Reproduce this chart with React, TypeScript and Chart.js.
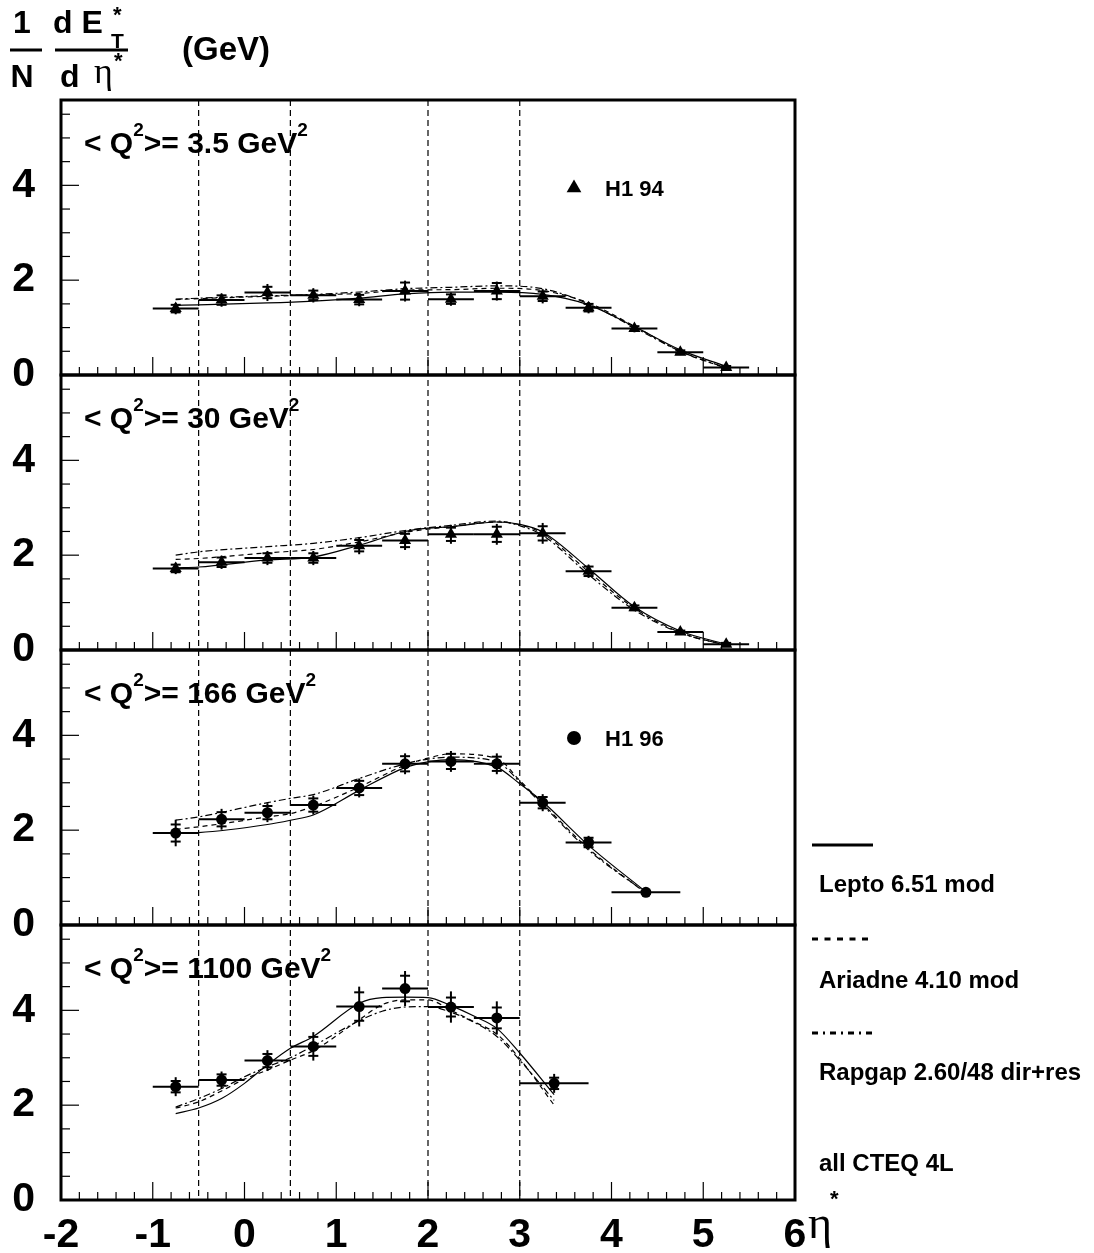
import React, { useEffect, useRef } from 'react';
import { Chart, registerables } from 'chart.js';

Chart.register(...registerables);

const FONT = '"Liberation Sans", Arial, Helvetica, sans-serif';
const SERIF = '"Liberation Serif", "DejaVu Serif", serif';

// ---------------- Panel 1 : <Q2> = 3.5 GeV2 (H1 94) ----------------
const p1X = [-0.75, -0.25, 0.25, 0.75, 1.25, 1.75, 2.25, 2.75, 3.25, 3.75, 4.25, 4.75, 5.25];
const p1Y = [1.40, 1.58, 1.74, 1.68, 1.59, 1.77, 1.60, 1.77, 1.66, 1.42, 0.98, 0.48, 0.16];
const p1Stat = [0.08, 0.1, 0.12, 0.1, 0.1, 0.18, 0.1, 0.17, 0.1, 0.08, 0.05, 0.04, 0.03];
const p1Tot = [0.12, 0.14, 0.18, 0.15, 0.14, 0.22, 0.14, 0.2, 0.15, 0.12, 0.08, 0.06, 0.05];
const p1XLo = [-1, -0.5, 0, 0.5, 1, 1.5, 2, 2.5, 3, 3.5, 4, 4.5, 5];
const p1XHi = [-0.5, 0, 0.5, 1, 1.5, 2, 2.5, 3, 3.5, 4, 4.5, 5, 5.5];
const p1ModelX = [-0.75, -0.5, 0.25, 0.75, 1.25, 1.75, 2.25, 2.75, 3.25, 3.75, 4.25, 4.75, 5.25];
const p1Lepto = [1.47, 1.48, 1.52, 1.56, 1.62, 1.71, 1.75, 1.75, 1.70, 1.48, 1.02, 0.53, 0.18];
const p1Ariadne = [1.59, 1.61, 1.66, 1.69, 1.72, 1.79, 1.80, 1.83, 1.78, 1.52, 1.03, 0.50, 0.14];
const p1Rapgap = [1.60, 1.62, 1.67, 1.70, 1.75, 1.82, 1.85, 1.88, 1.82, 1.50, 1.00, 0.50, 0.15];

// ---------------- Panel 2 : <Q2> = 30 GeV2 (H1 94) ----------------
const p2X = [-0.75, -0.25, 0.25, 0.75, 1.25, 1.75, 2.25, 2.75, 3.25, 3.75, 4.25, 4.75, 5.25];
const p2Y = [1.72, 1.85, 1.94, 1.94, 2.20, 2.31, 2.44, 2.44, 2.46, 1.66, 0.89, 0.38, 0.12];
const p2Stat = [0.08, 0.1, 0.1, 0.1, 0.12, 0.14, 0.14, 0.16, 0.15, 0.1, 0.05, 0.03, 0.03];
const p2Tot = [0.12, 0.14, 0.15, 0.15, 0.18, 0.2, 0.2, 0.22, 0.22, 0.14, 0.07, 0.05, 0.04];
const p2XLo = [-1, -0.5, 0, 0.5, 1, 1.5, 2, 2.5, 3, 3.5, 4, 4.5, 5];
const p2XHi = [-0.5, 0, 0.5, 1, 1.5, 2, 2.5, 3, 3.5, 4, 4.5, 5, 5.5];
const p2ModelX = [-0.75, -0.5, 0.25, 0.75, 1.25, 1.75, 2.0, 2.25, 2.75, 3.0, 3.25, 3.75, 4.25, 4.75, 5.25];
const p2Lepto = [1.73, 1.75, 1.90, 1.96, 2.21, 2.50, 2.57, 2.60, 2.70, 2.65, 2.49, 1.72, 0.91, 0.40, 0.12];
const p2Ariadne = [1.91, 1.93, 2.05, 2.12, 2.28, 2.48, 2.55, 2.60, 2.70, 2.64, 2.46, 1.65, 0.88, 0.37, 0.10];
const p2Rapgap = [2.00, 2.07, 2.18, 2.25, 2.37, 2.52, 2.58, 2.63, 2.72, 2.62, 2.42, 1.59, 0.84, 0.36, 0.10];

// ---------------- Panel 3 : <Q2> = 166 GeV2 (H1 96) ----------------
const p3X = [-0.75, -0.25, 0.25, 0.75, 1.25, 1.75, 2.25, 2.75, 3.25, 3.75, 4.375];
const p3Y = [1.94, 2.23, 2.37, 2.53, 2.89, 3.40, 3.45, 3.40, 2.58, 1.74, 0.69];
const p3Stat = [0.18, 0.15, 0.14, 0.14, 0.15, 0.16, 0.16, 0.15, 0.12, 0.1, 0.03];
const p3Tot = [0.28, 0.22, 0.2, 0.2, 0.2, 0.22, 0.22, 0.22, 0.18, 0.14, 0.05];
const p3XLo = [-1, -0.5, 0, 0.5, 1, 1.5, 2, 2.5, 3, 3.5, 4];
const p3XHi = [-0.5, 0, 0.5, 1, 1.5, 2, 2.5, 3, 3.5, 4, 4.75];
const p3ModelX = [-0.75, -0.5, 0.25, 0.5, 0.75, 1.25, 1.75, 2.0, 2.25, 2.75, 3.0, 3.25, 3.75, 4.375];
const p3Lepto = [1.94, 1.95, 2.12, 2.21, 2.32, 2.84, 3.32, 3.44, 3.49, 3.33, 2.98, 2.60, 1.68, 0.70];
const p3Ariadne = [2.02, 2.07, 2.28, 2.35, 2.50, 2.91, 3.37, 3.52, 3.61, 3.51, 3.05, 2.56, 1.61, 0.67];
const p3Rapgap = [2.21, 2.28, 2.58, 2.67, 2.75, 3.09, 3.40, 3.50, 3.54, 3.44, 3.02, 2.53, 1.58, 0.68];

// ---------------- Panel 4 : <Q2> = 1100 GeV2 (H1 96) ----------------
const p4X = [-0.75, -0.25, 0.25, 0.75, 1.25, 1.75, 2.25, 2.75, 3.375];
const p4Y = [2.39, 2.53, 2.94, 3.24, 4.08, 4.46, 4.07, 3.84, 2.46];
const p4Stat = [0.12, 0.12, 0.14, 0.2, 0.3, 0.27, 0.2, 0.22, 0.12];
const p4Tot = [0.2, 0.18, 0.22, 0.3, 0.42, 0.37, 0.33, 0.35, 0.2];
const p4XLo = [-1, -0.5, 0, 0.5, 1, 1.5, 2, 2.5, 3];
const p4XHi = [-0.5, 0, 0.5, 1, 1.5, 2, 2.5, 3, 3.75];
const p4ModelX = [-0.75, -0.5, -0.25, 0, 0.25, 0.5, 0.75, 1.25, 1.5, 1.75, 2.0, 2.25, 2.5, 2.75, 3.0, 3.375];
const p4Lepto = [1.82, 1.94, 2.14, 2.46, 2.85, 3.2, 3.45, 4.15, 4.27, 4.28, 4.27, 4.1, 3.88, 3.62, 3.1, 2.22];
const p4Ariadne = [1.94, 2.07, 2.3, 2.55, 2.74, 2.95, 3.15, 3.8, 4.12, 4.22, 4.22, 4.0, 3.76, 3.5, 2.98, 2.0];
const p4Rapgap = [1.96, 2.14, 2.35, 2.6, 2.81, 3.0, 3.25, 3.78, 3.98, 4.07, 4.08, 3.96, 3.75, 3.45, 2.95, 2.1];

// ---------------- axes / labels ----------------
const q2Values = ['3.5', '30', '166', '1100'];
const xTickValues = [-2, -1, 0, 1, 2, 3, 4, 5, 6];
const yTickValues = [0, 2, 4];
const refLines = [-0.5, 0.5, 2, 3];
const modelNames = ['Lepto 6.51 mod', 'Ariadne 4.10 mod', 'Rapgap 2.60/48 dir+res'];
const dataNames = ['H1 94', 'H1 96'];

const panels = [
  { id: 'y1', marker: 'triangle', x: p1X, y: p1Y, stat: p1Stat, tot: p1Tot, lo: p1XLo, hi: p1XHi, mx: p1ModelX, models: [p1Lepto, p1Ariadne, p1Rapgap] },
  { id: 'y2', marker: 'triangle', x: p2X, y: p2Y, stat: p2Stat, tot: p2Tot, lo: p2XLo, hi: p2XHi, mx: p2ModelX, models: [p2Lepto, p2Ariadne, p2Rapgap] },
  { id: 'y3', marker: 'circle', x: p3X, y: p3Y, stat: p3Stat, tot: p3Tot, lo: p3XLo, hi: p3XHi, mx: p3ModelX, models: [p3Lepto, p3Ariadne, p3Rapgap] },
  { id: 'y4', marker: 'circle', x: p4X, y: p4Y, stat: p4Stat, tot: p4Tot, lo: p4XLo, hi: p4XHi, mx: p4ModelX, models: [p4Lepto, p4Ariadne, p4Rapgap] },
];

const modelDash = [[], [5, 4], [7, 3, 2, 3]];

function line(ctx: CanvasRenderingContext2D, x1: number, y1: number, x2: number, y2: number) {
  ctx.beginPath();
  ctx.moveTo(x1, y1);
  ctx.lineTo(x2, y2);
  ctx.stroke();
}

function drawQ2(ctx: CanvasRenderingContext2D, x: number, base: number, val: string) {
  const main = `bold 30px ${FONT}`;
  const sup = `bold 19px ${FONT}`;
  let cx = x;
  const seg = (t: string, f: string, dy: number) => {
    ctx.font = f;
    ctx.fillText(t, cx, base - dy);
    cx += ctx.measureText(t).width;
  };
  seg('< Q', main, 0);
  seg('2', sup, 17);
  seg('>= ' + val + ' GeV', main, 0);
  seg('2', sup, 17);
}

const overlay = {
  id: 'overlay',
  beforeDatasetsDraw(chart: any) {
    const ctx: CanvasRenderingContext2D = chart.ctx;
    const { top, bottom } = chart.chartArea;
    const xs = chart.scales.x;
    ctx.save();
    ctx.strokeStyle = '#000';
    ctx.lineWidth = 1.2;
    ctx.setLineDash([6, 4]);
    refLines.forEach((v) => {
      const px = xs.getPixelForValue(v);
      line(ctx, px, top, px, bottom);
    });
    ctx.setLineDash([]);
    chart.data.datasets.forEach((ds: any) => {
      if (!ds.errTot) return;
      const ys = chart.scales[ds.yAxisID];
      ds.data.forEach((p: any, j: number) => {
        const px = xs.getPixelForValue(p.x);
        const py = ys.getPixelForValue(p.y);
        ctx.lineWidth = 2;
        line(ctx, xs.getPixelForValue(ds.xLo[j]), py, xs.getPixelForValue(ds.xHi[j]), py);
        line(ctx, px, ys.getPixelForValue(p.y + ds.errTot[j]), px, ys.getPixelForValue(p.y - ds.errTot[j]));
        const s1 = ys.getPixelForValue(p.y + ds.errStat[j]);
        const s2 = ys.getPixelForValue(p.y - ds.errStat[j]);
        line(ctx, px - 5, s1, px + 5, s1);
        line(ctx, px - 5, s2, px + 5, s2);
      });
    });
    ctx.restore();
  },
  afterDraw(chart: any) {
    const ctx: CanvasRenderingContext2D = chart.ctx;
    const { left, right } = chart.chartArea;
    const xs = chart.scales.x;
    ctx.save();
    ctx.strokeStyle = '#000';
    ctx.fillStyle = '#000';
    panels.forEach((p, k) => {
      const ys = chart.scales[p.id];
      // ticks
      ctx.lineWidth = 1.2;
      for (let i = 1; i < 40; i++) {
        const v = -2 + i * 0.2;
        const px = xs.getPixelForValue(v);
        const len = i % 5 === 0 ? 18 : 8;
        line(ctx, px, ys.bottom, px, ys.bottom - len);
      }
      for (let i = 1; i <= 11; i++) {
        const py = ys.getPixelForValue(i * 0.5);
        const len = i % 4 === 0 ? 18 : 9;
        line(ctx, left, py, left + len, py);
      }
      // frame
      ctx.lineWidth = 3;
      ctx.strokeRect(left, ys.top, right - left, ys.bottom - ys.top);
      // panel label
      ctx.textAlign = 'left';
      ctx.textBaseline = 'alphabetic';
      drawQ2(ctx, left + 23, ys.top + 53, q2Values[k]);
      // data legend
      if (k === 0 || k === 2) {
        const mx = left + 513;
        const my = ys.top + 88;
        ctx.beginPath();
        if (k === 0) {
          const r = 8.5;
          ctx.moveTo(mx, my - r);
          ctx.lineTo(mx + r * 0.866, my + r * 0.5);
          ctx.lineTo(mx - r * 0.866, my + r * 0.5);
          ctx.closePath();
        } else {
          ctx.arc(mx, my, 7, 0, Math.PI * 2);
        }
        ctx.fill();
        ctx.font = `bold 22px ${FONT}`;
        ctx.fillText(dataNames[k === 0 ? 0 : 1], left + 544, my + 8);
      }
    });

    // model legend on the right
    const lx1 = 812, lx2 = 873;
    const lineYs = [845, 939, 1033];
    const textYs = [892, 988, 1080];
    const legDash = [[], [6, 6.5], [6, 5, 2, 5]];
    ctx.lineWidth = 3;
    modelNames.forEach((name, i) => {
      ctx.setLineDash(legDash[i]);
      line(ctx, lx1, lineYs[i], lx2, lineYs[i]);
      ctx.setLineDash([]);
      ctx.font = `bold 24px ${FONT}`;
      ctx.fillText(name, 819, textYs[i]);
    });
    ctx.font = `bold 24px ${FONT}`;
    ctx.fillText('all CTEQ 4L', 819, 1171);

    // y-axis title
    ctx.font = `bold 32px ${FONT}`;
    ctx.textAlign = 'center';
    ctx.fillText('1', 22, 33);
    ctx.fillText('N', 22, 87);
    ctx.lineWidth = 3;
    line(ctx, 10, 50, 42, 50);
    line(ctx, 55, 50, 128, 50);
    ctx.textAlign = 'left';
    ctx.fillText('d E', 53, 33);
    ctx.font = `bold 21px ${FONT}`;
    ctx.fillText('T', 111, 48);
    ctx.font = `bold 22px ${FONT}`;
    ctx.fillText('*', 113, 22);
    ctx.font = `bold 32px ${FONT}`;
    ctx.fillText('d', 60, 87);
    ctx.font = `36px ${SERIF}`;
    ctx.fillText('\u03B7', 94, 83);
    ctx.font = `bold 22px ${FONT}`;
    ctx.fillText('*', 114, 68);
    ctx.font = `bold 33px ${FONT}`;
    ctx.fillText('(GeV)', 182, 60);

    // x-axis title
    ctx.font = `46px ${SERIF}`;
    ctx.fillText('\u03B7', 808, 1238);
    ctx.font = `bold 22px ${FONT}`;
    ctx.fillText('*', 830, 1206);
    ctx.restore();
  },
};

function yAxis(weight: number) {
  return {
    type: 'linear',
    position: 'left',
    stack: 'panels',
    stackWeight: 1,
    weight,
    min: 0,
    max: 5.8,
    grid: { display: false, drawTicks: false },
    border: { display: false },
    afterBuildTicks: (s: any) => {
      s.ticks = yTickValues.map((v) => ({ value: v }));
    },
    afterFit: (s: any) => {
      s.width = 61;
    },
    ticks: {
      color: '#000',
      padding: 26,
      font: { family: FONT, size: 41, weight: 'bold' },
    },
  };
}

export default function App() {
  const ref = useRef<HTMLCanvasElement>(null);
  useEffect(() => {
    const datasets: any[] = [];
    panels.forEach((p) => {
      datasets.push({
        label: p.id + ' data',
        yAxisID: p.id,
        data: p.x.map((x, i) => ({ x, y: p.y[i] })),
        showLine: false,
        pointStyle: p.marker,
        pointRadius: p.marker === 'triangle' ? 7 : 5.5,
        backgroundColor: '#000',
        borderColor: '#000',
        borderWidth: 0,
        errStat: p.stat,
        errTot: p.tot,
        xLo: p.lo,
        xHi: p.hi,
      });
      p.models.forEach((vals, m) => {
        datasets.push({
          label: p.id + ' ' + modelNames[m],
          yAxisID: p.id,
          data: p.mx.map((x, i) => ({ x, y: vals[i] })),
          showLine: true,
          pointRadius: 0,
          borderColor: '#000',
          borderWidth: 1.2,
          borderDash: modelDash[m],
          cubicInterpolationMode: 'monotone',
          fill: false,
        });
      });
    });

    const chart = new Chart(ref.current as HTMLCanvasElement, {
      type: 'scatter',
      data: { datasets },
      options: {
        responsive: false,
        animation: false,
        events: [],
        layout: { padding: { left: 0, top: 100, right: 299, bottom: 0 } },
        plugins: { legend: { display: false }, tooltip: { enabled: false } },
        scales: {
          x: {
            type: 'linear',
            position: 'bottom',
            min: -2,
            max: 6,
            grid: { display: false, drawTicks: false },
            border: { display: false },
            afterBuildTicks: (s: any) => {
              s.ticks = xTickValues.map((v) => ({ value: v }));
            },
            afterFit: (s: any) => {
              s.height = 53;
            },
            ticks: {
              color: '#000',
              padding: 11,
              maxRotation: 0,
              autoSkip: false,
              font: { family: FONT, size: 41, weight: 'bold' },
            },
          },
          y1: yAxis(4),
          y2: yAxis(3),
          y3: yAxis(2),
          y4: yAxis(1),
        } as any,
      },
      plugins: [overlay],
    } as any);
    return () => chart.destroy();
  }, []);

  return (
    <div style={{ position: 'absolute', left: 0, top: 0, width: 1094, height: 1253, background: '#fff' }}>
      <canvas ref={ref} width={1094} height={1253} style={{ display: 'block', width: 1094, height: 1253 }} />
    </div>
  );
}
